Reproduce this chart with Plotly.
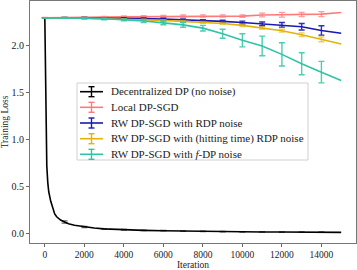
import plotly.graph_objects as go

# ---------------- data ----------------
iters = [0, 1000, 2000, 3000, 4000, 5000, 6000, 7000, 8000, 9000, 10000,
         11000, 12000, 13000, 14000, 15000]

local_dp = [2.300, 2.300, 2.305, 2.308, 2.310, 2.312, 2.314, 2.318, 2.320, 2.320,
            2.318, 2.330, 2.333, 2.335, 2.340, 2.357]
local_err = [0.003, 0.005, 0.006, 0.008, 0.010, 0.010, 0.012, 0.012, 0.012, 0.012,
             0.012, 0.020, 0.025, 0.022, 0.027]

rw_rdp = [2.300, 2.300, 2.300, 2.297, 2.295, 2.292, 2.287, 2.280, 2.270, 2.262,
          2.250, 2.236, 2.226, 2.205, 2.165, 2.135]
rw_rdp_err = [0.002, 0.003, 0.004, 0.005, 0.006, 0.007, 0.008, 0.009, 0.010, 0.012,
              0.015, 0.020, 0.025, 0.035, 0.050]

rw_hit = [2.300, 2.300, 2.296, 2.291, 2.286, 2.280, 2.272, 2.262, 2.252, 2.240,
          2.220, 2.192, 2.163, 2.120, 2.070, 2.020]
rw_hit_err = [0.002, 0.003, 0.004, 0.005, 0.006, 0.007, 0.008, 0.009, 0.010, 0.010,
              0.012, 0.014, 0.016, 0.020, 0.025]

rw_fdp = [2.300, 2.300, 2.296, 2.290, 2.280, 2.266, 2.246, 2.225, 2.190, 2.130,
          2.060, 2.000, 1.910, 1.810, 1.720, 1.630]
rw_fdp_err = [0.002, 0.005, 0.008, 0.010, 0.012, 0.015, 0.020, 0.025, 0.030, 0.048,
              0.070, 0.105, 0.124, 0.117, 0.115]

dec_iters = [0, 50, 100, 150, 200, 300, 400, 500, 600, 800, 1000, 1200, 1500,
             2000, 2500, 3000, 4000, 5000, 6000, 7000, 8000, 9000, 10000,
             11000, 12000, 13000, 14000, 15000]
dec_dp = [2.300, 1.150, 0.720, 0.540, 0.440, 0.340, 0.260, 0.205, 0.175, 0.140,
          0.120, 0.100, 0.085, 0.066, 0.055, 0.046, 0.036, 0.030, 0.026, 0.022,
          0.019, 0.017, 0.015, 0.013, 0.012, 0.011, 0.010, 0.009]
dec_err_iters = [1000, 2000, 3000, 4000, 5000, 6000, 7000, 8000, 9000, 10000,
                 11000, 12000, 13000, 14000]
dec_err = [0.012, 0.006, 0.004, 0.004, 0.003, 0.003, 0.003, 0.003, 0.003, 0.003,
           0.003, 0.003, 0.003, 0.003]
dec_err_vals = [dec_dp[dec_iters.index(i)] for i in dec_err_iters]

x_tick_vals = [0, 2000, 4000, 6000, 8000, 10000, 12000, 14000]
x_tick_text = ["0", "2000", "4000", "6000", "8000", "10000", "12000", "14000"]
y_tick_vals = [0.0, 0.5, 1.0, 1.5, 2.0]
y_tick_text = ["0.0", "0.5", "1.0", "1.5", "2.0"]

names = ["Decentralized DP (no noise)", "Local DP-SGD",
         "RW DP-SGD with RDP noise", "RW DP-SGD with (hitting time) RDP noise",
         "RW DP-SGD with <i>f</i>-DP noise"]
colors = ["#000000", "#ff7b7b", "#1a1ab0", "#e3b30a", "#2ec4a5"]
err_colors = ["rgba(0,0,0,0.6)", "rgba(255,123,123,0.75)", "rgba(26,26,176,0.9)",
              "rgba(227,179,10,0.65)", "rgba(46,196,165,0.85)"]

# ---------------- figure ----------------
W, H = 357, 270
ML, MR, MT, MB = 30, 1, 1, 27
PW, PH = W - ML - MR, H - MT - MB
font_family = "Liberation Serif, Times New Roman, serif"


def px(xp):
    return (xp - ML) / PW


def py(yp):
    return (H - MB - yp) / PH


fig = go.Figure()

series = [(local_dp, local_err), (rw_rdp, rw_rdp_err), (rw_hit, rw_hit_err),
          (rw_fdp, rw_fdp_err)]

fig.add_trace(go.Scatter(x=dec_iters, y=dec_dp, mode="lines", name=names[0],
                         line=dict(color=colors[0], width=1.6)))
fig.add_trace(go.Scatter(x=dec_err_iters, y=dec_err_vals, mode="markers",
                         marker=dict(size=0.1, color=colors[0]),
                         error_y=dict(type="data", array=dec_err, color=err_colors[0],
                                      thickness=1.2, width=3)))

for k, (vals, errs) in enumerate(series, start=1):
    fig.add_trace(go.Scatter(x=iters, y=vals, mode="lines", name=names[k],
                             line=dict(color=colors[k], width=1.6)))
    fig.add_trace(go.Scatter(x=iters[:len(errs)], y=vals[:len(errs)], mode="markers",
                             marker=dict(size=0.1, color=colors[k]),
                             error_y=dict(type="data", array=errs, color=err_colors[k],
                                          thickness=1.4, width=3)))

# ---------------- manual legend (matplotlib-like) ----------------
shapes = []
annotations = []
box_l, box_r, box_t, box_b = 77, 308, 83, 160
shapes.append(dict(type="rect", xref="paper", yref="paper",
                   x0=px(box_l), x1=px(box_r), y0=py(box_b), y1=py(box_t),
                   line=dict(color="#d0d0d0", width=1),
                   fillcolor="rgba(255,255,255,0.9)", layer="above"))
row_y = [91.7, 107.3, 123.0, 138.7, 154.3]
for k in range(5):
    yy = row_y[k]
    shapes.append(dict(type="line", xref="paper", yref="paper",
                       x0=px(80), x1=px(103), y0=py(yy), y1=py(yy),
                       line=dict(color=colors[k], width=1.6), layer="above"))
    shapes.append(dict(type="line", xref="paper", yref="paper",
                       x0=px(91.5), x1=px(91.5), y0=py(yy - 5), y1=py(yy + 5),
                       line=dict(color=colors[k], width=1.4), layer="above"))
    for dy in (-5, 5):
        shapes.append(dict(type="line", xref="paper", yref="paper",
                           x0=px(88.5), x1=px(94.5), y0=py(yy + dy), y1=py(yy + dy),
                           line=dict(color=colors[k], width=1.4), layer="above"))
    annotations.append(dict(text=names[k], xref="paper", yref="paper",
                            x=px(109), y=py(yy), xanchor="left", yanchor="middle",
                            showarrow=False,
                            font=dict(family=font_family, size=11, color="#222")))

fig.update_layout(
    width=W, height=H,
    margin=dict(l=ML, r=MR, t=MT, b=MB, autoexpand=False),
    plot_bgcolor="white", paper_bgcolor="white",
    font=dict(family=font_family, size=10, color="#222"),
    showlegend=False,
    shapes=shapes, annotations=annotations,
    xaxis=dict(range=[-750, 15750], tickvals=x_tick_vals, ticktext=x_tick_text,
               ticks="outside", ticklen=3, tickcolor="#666", showgrid=False,
               zeroline=False, showline=True, linecolor="#777", linewidth=1, mirror=True,
               title=dict(text="Iteration", font=dict(family=font_family, size=9.5)),
               tickfont=dict(family=font_family, size=9.5), automargin=False),
    yaxis=dict(range=[-0.105, 2.48], tickvals=y_tick_vals, ticktext=y_tick_text,
               ticks="outside", ticklen=3, tickcolor="#666", showgrid=False,
               zeroline=False, showline=True, linecolor="#777", linewidth=1, mirror=True,
               title=dict(text="Training Loss", font=dict(family=font_family, size=9.5)),
               tickfont=dict(family=font_family, size=10), automargin=False),
)

fig.write_html("out.html", config={"displayModeBar": False, "staticPlot": True},
               post_script="document.body.style.margin='0';document.body.style.padding='0';")
